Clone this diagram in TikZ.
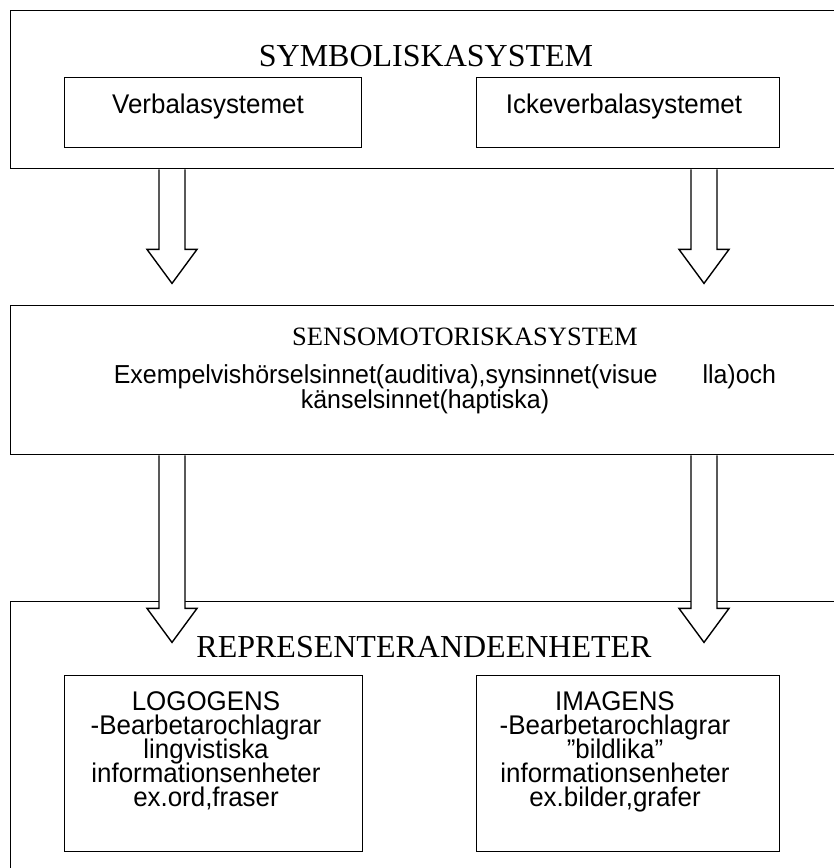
\documentclass[tikz,border=0pt]{standalone}
\usepackage{fontspec}
\setmainfont{Liberation Serif}
\newfontfamily\arialf[FakeStretch=0.96]{Liberation Sans}
\lineskiplimit=-100pt
\begin{document}
\begin{tikzpicture}[x=1pt,y=-1pt,
  box/.style={draw,line width=1.4pt,inner sep=0pt,anchor=north west},
  ttl/.style={inner sep=0pt,anchor=base,font=\fontsize{32}{32}\selectfont},
  sub/.style={inner sep=0pt,anchor=base,font=\arialf\fontsize{27}{24}\selectfont},
  multi/.style={sub,align=center},
  arrowbox/.style={draw,fill=white,line width=1.4pt,line join=miter}]
\useasboundingbox (0,0) rectangle (834,868);
\clip (0,0) rectangle (834,868);
% outer boxes
\node[box,minimum width=850pt,minimum height=158pt] (symb) at (10,10) {};
\node[box,minimum width=850pt,minimum height=149pt] (sens) at (10,305) {};
\node[box,minimum width=850pt,minimum height=290pt] (repr) at (10,601) {};
% inner boxes
\node[box,minimum width=297pt,minimum height=70pt] (verbal) at (64,77) {};
\node[box,minimum width=303pt,minimum height=70pt] (ickev) at (476,77) {};
\node[box,minimum width=298pt,minimum height=176pt] (logo) at (64,675) {};
\node[box,minimum width=303pt,minimum height=176pt] (imag) at (476,675) {};
% texts (base anchor = baseline of the last line)
\node[ttl] (t1) at (426,66) {SYMBOLISKASYSTEM};
\node[sub] (tv) at (208,113) {Verbalasystemet};
\node[sub] (ti) at (624,113) {Ickeverbalasystemet};
\node[ttl,font=\fontsize{26.5}{26.5}\selectfont] (t2) at (465,345) {SENSOMOTORISKASYSTEM};
\node[multi,font=\arialf\fontsize{26}{25.5}\selectfont] (t2a) at (445,408.5) {Exempelvishörselsinnet(auditiva),synsinnet(visue\hspace{45pt}lla)och\\\hspace*{-40pt}känselsinnet(haptiska)};
\node[ttl] (t3) at (424,657) {REPRESENTERANDEENHETER};
\node[multi] (lg) at (206,806) {LOGOGENS\\-Bearbetarochlagrar\\lingvistiska\\informationsenheter\\ex.ord,fraser};
\node[multi] (im) at (615,806) {IMAGENS\\-Bearbetarochlagrar\\”bildlika”\\informationsenheter\\ex.bilder,grafer};
% block arrows
\coordinate (a1) at (symb.south west -| 172,0);
\coordinate (a2) at (symb.south west -| 704,0);
\coordinate (a3) at (sens.south west -| 172,0);
\coordinate (a4) at (sens.south west -| 704,0);
\foreach \c/\L in {a1/80,a2/80,a3/153,a4/153}
  \draw[arrowbox] (\c) ++(-13,0) -- ++(0,\L) -- ++(-12,0) -- ++(25,34) -- ++(25,-34) -- ++(-12,0) -- ++(0,-\L);
\end{tikzpicture}
\end{document}
